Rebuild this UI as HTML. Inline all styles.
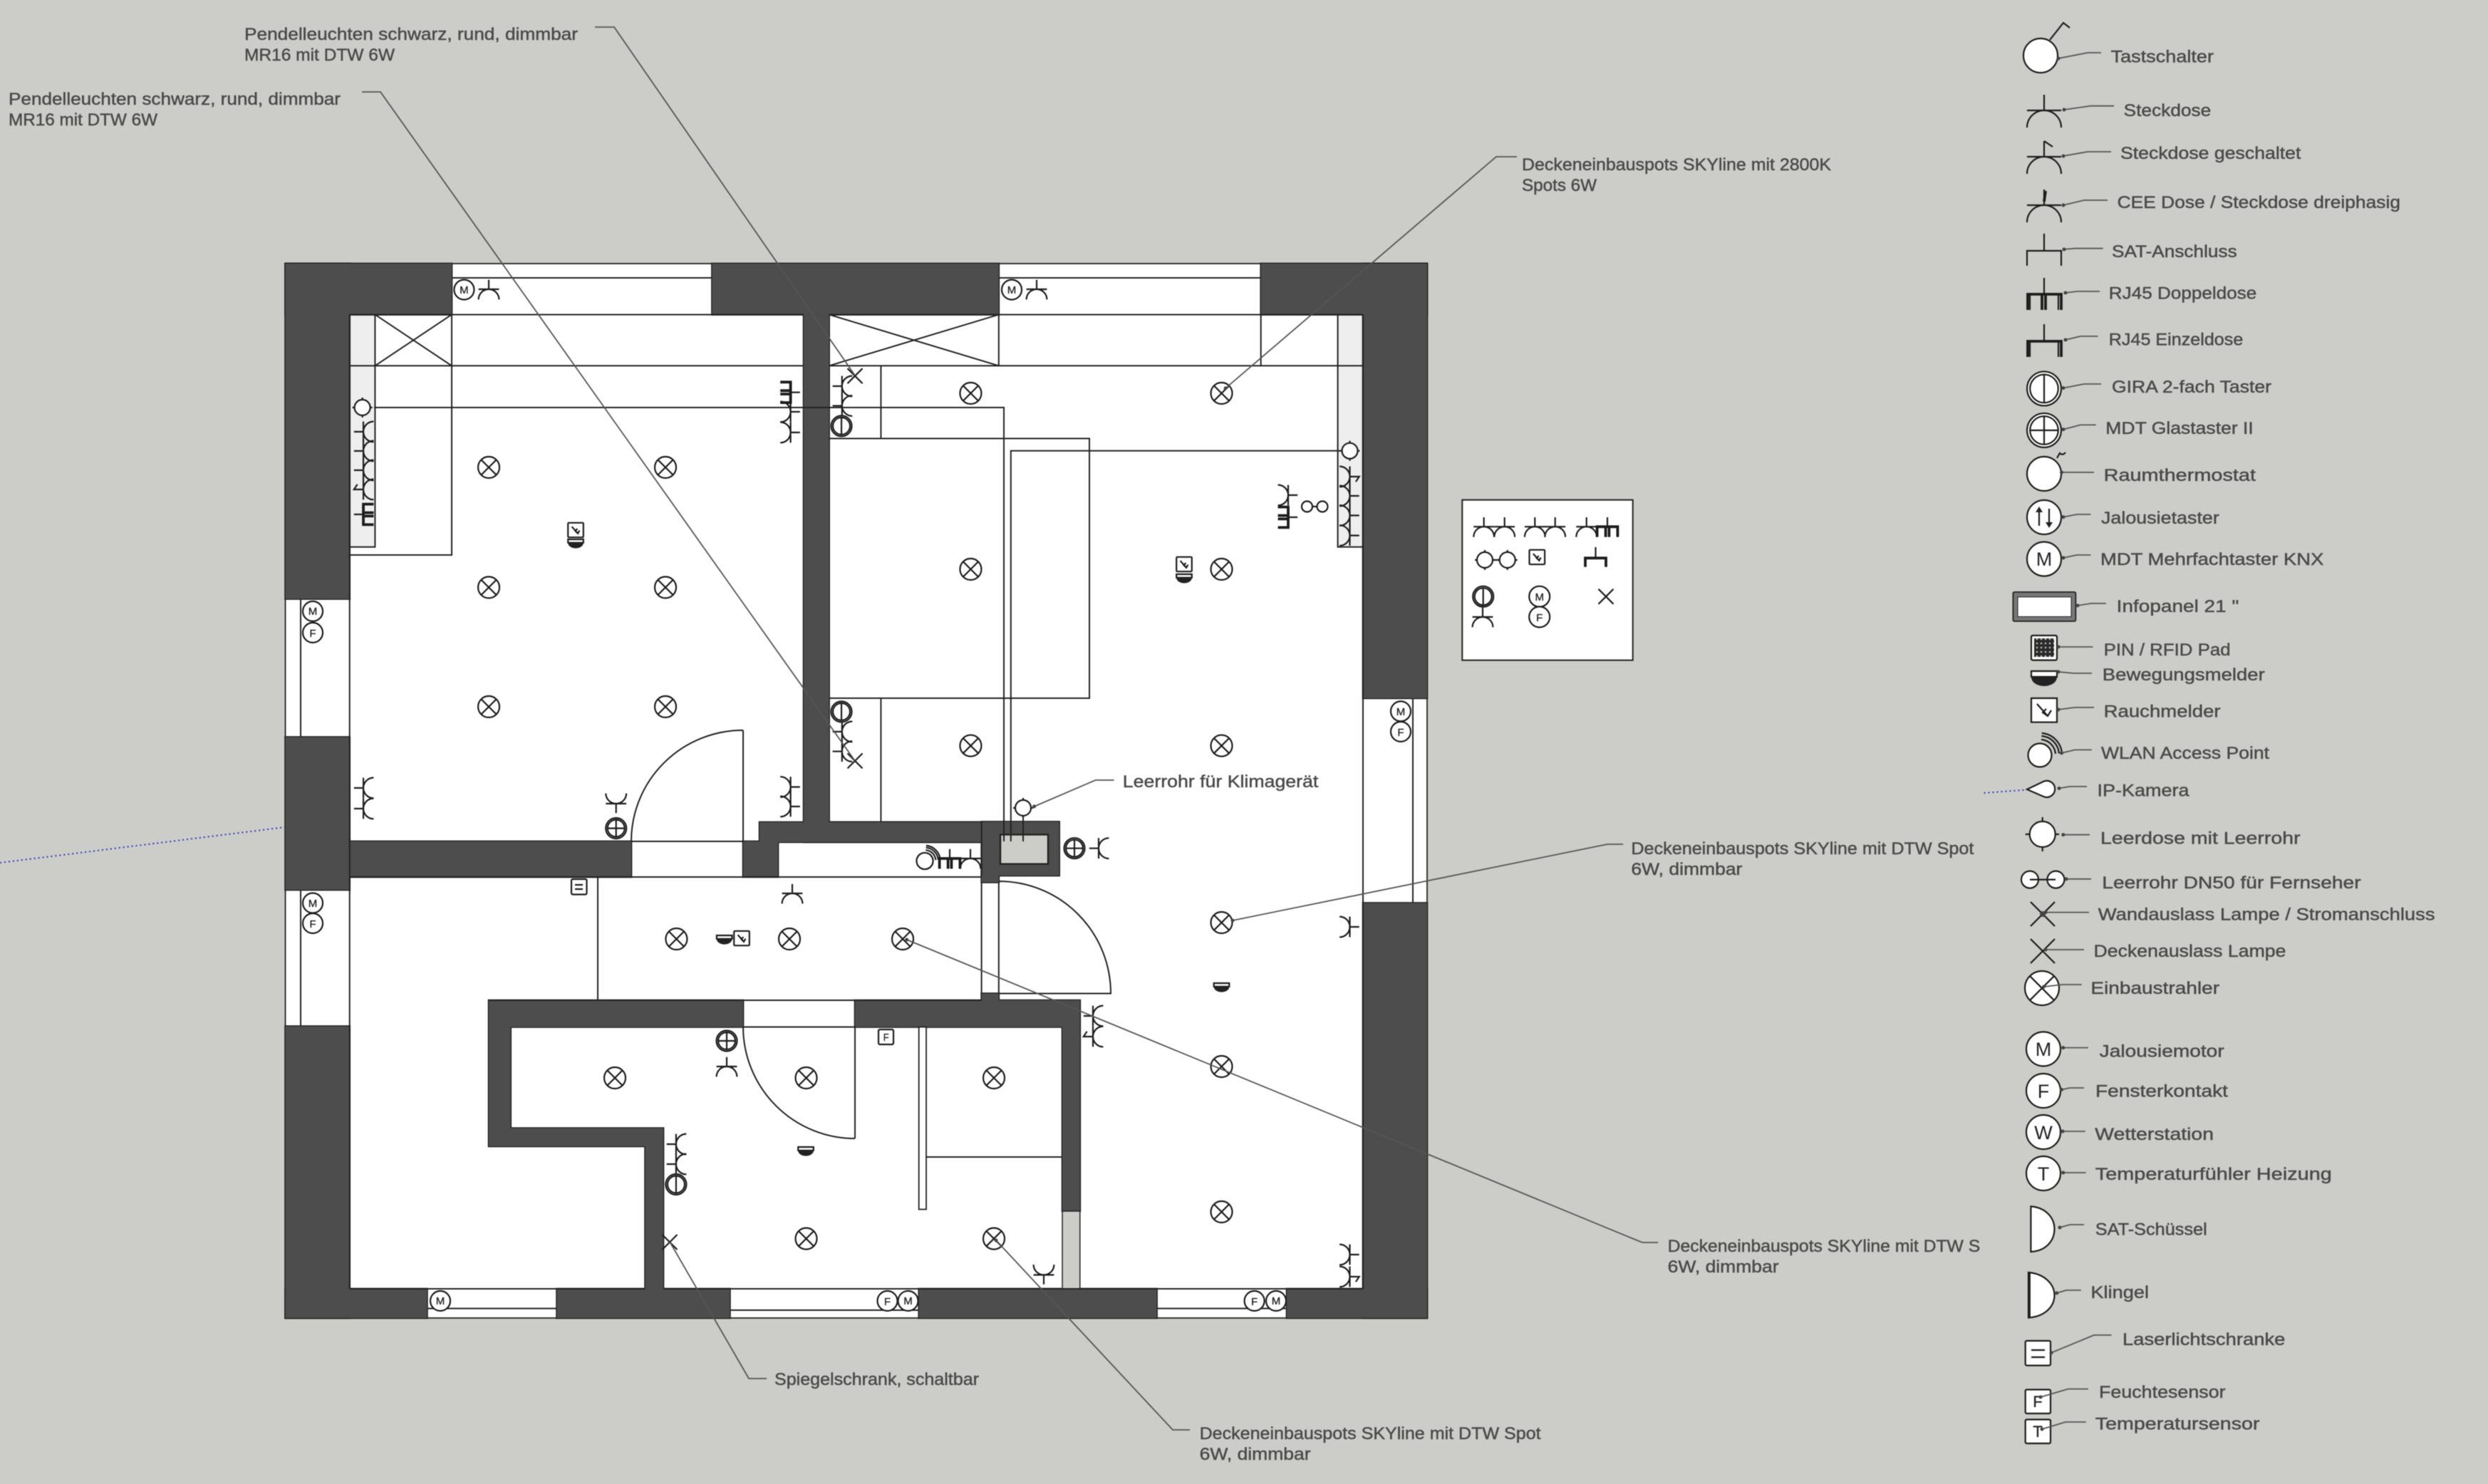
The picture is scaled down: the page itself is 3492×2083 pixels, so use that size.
<!DOCTYPE html>
<html><head><meta charset="utf-8"><style>
html,body{margin:0;padding:0;background:#cccdc8}
svg{display:block;filter:blur(.6px)}
text{font-family:"Liberation Sans",sans-serif;font-size:24px;fill:#4a4a4a;stroke:#4a4a4a;stroke-width:.45}
.l,.l *{fill:none;stroke:#222;stroke-width:2;vector-effect:non-scaling-stroke}
.ld{fill:none;stroke:#555;stroke-width:1.8}
.dot{fill:#444}
.sym *{vector-effect:non-scaling-stroke}
.st{fill:none;stroke:#1c1c1c;stroke-width:2.2}
.wf{fill:#fff;stroke:#1c1c1c;stroke-width:2.2}
.th{fill:none;stroke:#1c1c1c;stroke-width:3.8}
.m{font-size:15px;fill:#222;stroke:#222;stroke-width:.3;text-anchor:middle}
.b{font-size:27px;fill:#222;stroke:none;text-anchor:middle}
.f{fill:#222;stroke:none}
</style></head><body>
<svg xmlns="http://www.w3.org/2000/svg" width="3492" height="2083" viewBox="0 0 3492 2083">
<rect width="3492" height="2083" fill="#cccdc8"/>
<defs>
<g id="s" class="sym"><path class="st" d="M-24 0H24M0 0V-22M-24 24A24 24 0 0 1 24 24"/></g>
<g id="ss" class="sym"><path class="st" d="M-24 0H24M0 0V-22L12 -14M-24 24A24 24 0 0 1 24 24"/></g>
<g id="r2" class="sym"><path class="st" d="M0 0V-22"/><path class="th" d="M-24 24V0H24V24M-4 24V0M4 24V0"/></g>
<g id="p" class="sym"><circle class="wf" r="15"/><path class="st" d="M-10.6 -10.6L10.6 10.6M-10.6 10.6L10.6 -10.6"/></g>
<g id="g" class="sym"><circle class="wf" r="14.5"/><circle class="st" r="12"/><path class="st" d="M0 -12V12"/></g>
<g id="d" class="sym"><circle class="wf" r="14.5"/><circle class="st" r="12"/><path class="st" d="M0 -12V12M-12 0H12"/></g>
<g id="x" class="sym"><path class="st" d="M-10.5 -10.5L10.5 10.5M-10.5 10.5L10.5 -10.5"/></g>
<g id="e" class="sym"><circle class="wf" r="11"/><path class="st" d="M0 -11V-14M0 11V14M-11 0H-14M11 0H14"/></g>
<g id="k" class="sym"><rect class="wf" x="-18" y="-17" width="36" height="34" rx="2"/><path class="st" d="M-9 -8L5 8M4 -3L-1 2L5 8L9 1"/></g>
<g id="b" class="sym"><path class="wf" d="M-18 -10H18V-2H-18Z"/><path class="f" d="M-18 -2H18C18 7 8 11 0 11C-8 11 -18 7 -18 -2Z"/></g>
<pattern id="pin" width="6" height="6" patternUnits="userSpaceOnUse"><rect width="6" height="6" fill="#2a2a2a"/><circle cx="3" cy="3" r="1.3" fill="#bbb"/></pattern>
<g id="wl">
<rect x="400.5" y="370" width="233.5" height="71.6"/>
<rect x="999.4" y="370" width="402.4" height="71.6"/>
<rect x="1769.7" y="370" width="233.3" height="71.6"/>
<rect x="400.5" y="370" width="90.2" height="470.6"/>
<rect x="400.5" y="1034.6" width="90.2" height="214.4"/>
<rect x="400.5" y="1440.5" width="90.2" height="409.5"/>
<rect x="400.5" y="1809" width="198.9" height="41"/>
<rect x="781.5" y="1809" width="242.9" height="41"/>
<rect x="1289.7" y="1809" width="333.9" height="41"/>
<rect x="1806" y="1809" width="197" height="41"/>
<rect x="1913" y="370" width="90" height="610"/>
<rect x="1913" y="1267.5" width="90" height="582.5"/>
<rect x="1128" y="441.6" width="35.6" height="713"/>
<rect x="490.7" y="1181" width="395.3" height="50"/>
<polygon points="1043,1181 1066,1181 1066,1154 1378,1154 1378,1182 1092,1182 1092,1231 1043,1231"/>
<rect x="1128" y="1154" width="250" height="28"/>
<rect x="1377.6" y="1153.5" width="109.1" height="75.5"/>
<rect x="1377.6" y="1229" width="24.2" height="9.4"/>
<rect x="1377.6" y="1394.5" width="24.2" height="9.5"/>
<polygon points="686,1404 1043,1404 1043,1441.5 716.7,1441.5 716.7,1583.5 931,1583.5 931,1809 905.5,1809 905.5,1609 686,1609"/>
<polygon points="1200,1404 1515.8,1404 1515.8,1700 1491,1700 1491,1441.5 1200,1441.5"/>
</g>
</defs>

<!-- plan base -->
<rect x="400.5" y="370" width="1602.5" height="1480" fill="#fff" stroke="#222" stroke-width="1.8"/>
<rect x="490.7" y="441.6" width="35.7" height="326" fill="#eee"/>
<rect x="1877.6" y="441.6" width="35.4" height="326" fill="#eee"/>

<!-- walls: dark outline underlay, then fill -->
<use href="#wl" fill="#1c1c1c" stroke="#1c1c1c" stroke-width="2.6"/>
<use href="#wl" fill="#4d4d4d"/>
<rect x="1404" y="1171.5" width="67" height="41.2" fill="#cccdc8" stroke="#222" stroke-width="2.4"/>
<rect x="1491" y="1700" width="24.8" height="109" fill="#cccdc8" stroke="#222" stroke-width="1.5"/>

<!-- plan lines -->
<g class="l">
<path d="M634 390H999.4M1401.8 390H1769.7M422 840.6V1034.6M422 1249V1440.5"/>
<path d="M1983 980V1267.5M599.4 1836.6H781.5M1024.4 1839H1289.7M1623.6 1836.6H1806"/>
<path d="M490.7 441.6H1128M1163.6 441.6H1913M490.7 441.6V1809M1913 441.6V1809M490.7 1809H905.5M931 1809H1913"/>
<path d="M490.7 513.4H1128M1163.6 513.4H1913M526.4 441.6V767.7H490.7M634 441.6V779H490.7M1877.6 441.6V767.7H1913"/>
<path d="M526.4 441.6L634 513.4M526.4 513.4L634 441.6M1163.6 441.6L1401.8 513.4M1163.6 513.4L1401.8 441.6"/>
<path d="M1401.8 441.6V513.4M1769.7 441.6V513.4"/>
<path d="M1236.4 513.4V615.5M1163.6 615.5H1529V980H1163.6M1236.4 980V1153.5"/>
<path d="M525 572H1409V1181M1882 632.8H1418.8V1181M1436 1145V1181"/>
<path d="M886 1181H1043V1025M886 1181A157 156 0 0 1 1043 1025M886 1231H1043"/>
<path d="M490.7 1231H1378M839 1231V1404M686 1404H1378M1377.6 1153.5V1229M1377.6 1238V1394.5M1401.8 1238V1394.5M1402 1237A157 157.5 0 0 1 1559 1394.5H1401.8"/>
<path d="M1043 1441.5H1200V1598M1043 1441.5A157 157 0 0 0 1200 1598"/>
<path d="M1300 1624H1491"/>
</g>
<rect x="1289.7" y="1441.5" width="10.3" height="256" fill="#fff" stroke="#222" stroke-width="1.8"/>

<!-- spots -->
<use href="#p" x="686" y="656"/><use href="#p" x="934" y="656"/>
<use href="#p" x="686" y="824.5"/><use href="#p" x="934" y="824.5"/>
<use href="#p" x="686" y="992"/><use href="#p" x="934" y="992"/>
<use href="#p" x="1362.4" y="552"/><use href="#p" x="1714.5" y="552"/>
<use href="#p" x="1362.4" y="799"/><use href="#p" x="1714.5" y="799"/>
<use href="#p" x="1362.4" y="1046.7"/><use href="#p" x="1714.5" y="1046.7"/>
<use href="#p" x="1714.5" y="1295"/><use href="#p" x="1714.5" y="1497"/><use href="#p" x="1714.5" y="1701"/>
<use href="#p" x="949.4" y="1318"/><use href="#p" x="1108" y="1318"/><use href="#p" x="1267" y="1318"/>
<use href="#p" x="863" y="1513"/><use href="#p" x="1131.5" y="1513"/><use href="#p" x="1395" y="1513"/>
<use href="#p" x="1131.5" y="1738.6"/><use href="#p" x="1395" y="1738.6"/>

<!-- sockets -->
<use href="#s" transform="translate(686 406) scale(.6)"/>
<use href="#s" transform="translate(1455 406) scale(.6)"/>
<use href="#s" transform="translate(510 606) rotate(-90) scale(.6)"/>
<use href="#s" transform="translate(510 633) rotate(-90) scale(.6)"/>
<use href="#s" transform="translate(510 660) rotate(-90) scale(.6)"/>
<use href="#ss" transform="translate(510 687) rotate(-90) scale(.6)"/>
<use href="#r2" transform="translate(510 722) rotate(-90) scale(.6)"/>
<use href="#r2" transform="translate(1109.6 550.7) rotate(90) scale(.6)"/>
<use href="#s" transform="translate(1109.6 578) rotate(90) scale(.6)"/>
<use href="#s" transform="translate(1109.6 607) rotate(90) scale(.6)"/>
<use href="#s" transform="translate(510 1106) rotate(-90) scale(.6)"/>
<use href="#s" transform="translate(510 1135) rotate(-90) scale(.6)"/>
<use href="#s" transform="translate(1109.6 1104.6) rotate(90) scale(.6)"/>
<use href="#s" transform="translate(1109.6 1132) rotate(90) scale(.6)"/>
<use href="#s" transform="translate(864.7 1128) rotate(180) scale(.6)"/>
<use href="#s" transform="translate(1181.8 542) rotate(-90) scale(.6)"/>
<use href="#s" transform="translate(1181.8 569.6) rotate(-90) scale(.6)"/>
<use href="#s" transform="translate(1181.8 1027) rotate(-90) scale(.6)"/>
<use href="#s" transform="translate(1181.8 1054.7) rotate(-90) scale(.6)"/>
<use href="#ss" transform="translate(1894.5 669) rotate(90) scale(.6)"/>
<use href="#s" transform="translate(1894.5 696) rotate(90) scale(.6)"/>
<use href="#s" transform="translate(1894.5 723.5) rotate(90) scale(.6)"/>
<use href="#s" transform="translate(1894.5 751.6) rotate(90) scale(.6)"/>
<use href="#s" transform="translate(1808 695) rotate(90) scale(.6)"/>
<use href="#r2" transform="translate(1808 726) rotate(90) scale(.6)"/>
<use href="#s" transform="translate(1542 1190.7) rotate(-90) scale(.6)"/>
<use href="#r2" transform="translate(1333 1205) scale(.6)"/>
<use href="#s" transform="translate(1362 1205) scale(.6)"/>
<use href="#s" transform="translate(1112 1254) scale(.6)"/>
<use href="#s" transform="translate(1020 1497) scale(.6)"/>
<use href="#s" transform="translate(1894.5 1301) rotate(90) scale(.6)"/>
<use href="#s" transform="translate(1894.5 1761) rotate(90) scale(.6)"/>
<use href="#ss" transform="translate(1894.5 1792) rotate(90) scale(.6)"/>
<use href="#s" transform="translate(1534 1426) rotate(-90) scale(.6)"/>
<use href="#ss" transform="translate(1534 1455) rotate(-90) scale(.6)"/>
<use href="#s" transform="translate(1465 1789.5) rotate(180) scale(.6)"/>
<use href="#s" transform="translate(948.9 1606) rotate(-90) scale(.6)"/>
<use href="#s" transform="translate(948.9 1634) rotate(-90) scale(.6)"/>

<!-- switches / boxes -->
<use href="#e" x="508.6" y="572"/><use href="#e" x="1894.5" y="632.8"/><use href="#e" x="1436" y="1134"/>
<use href="#g" x="1181" y="598"/><use href="#g" x="1181" y="999"/><use href="#g" x="948.9" y="1662.5"/>
<use href="#d" x="864.7" y="1162.6"/><use href="#d" x="1020" y="1461"/><use href="#d" x="1508" y="1190.7"/>
<use href="#x" x="1200" y="527.7"/><use href="#x" x="1200" y="1068"/><use href="#x" x="940" y="1743.5"/>
<use href="#k" transform="translate(808 744) scale(.6)"/><use href="#b" transform="translate(808 763) scale(.6)"/>
<use href="#k" transform="translate(1662 792) scale(.6)"/><use href="#b" transform="translate(1662 812) scale(.6)"/>
<use href="#b" transform="translate(1016.7 1319) scale(.6)"/><use href="#k" transform="translate(1041 1317) scale(.6)"/>
<use href="#b" transform="translate(1131 1616) scale(.6)"/><use href="#b" transform="translate(1714.5 1386) scale(.6)"/>
<g class="sym">
<path class="st" d="M1842 711H1849"/><circle class="wf" cx="1834.5" cy="711" r="7.5"/><circle class="wf" cx="1856" cy="711" r="7.5"/>
<g transform="translate(1298 1208.5) scale(.7)"><circle class="wf" r="16.5"/><path class="st" d="M1.9 -21.9A22 22 0 0 1 21.9 -1.9M2.4 -26.9A27 27 0 0 1 26.9 -2.4M2.7 -30.9A31 31 0 0 1 30.9 -2.7"/></g>
<rect class="wf" x="802" y="1234" width="21.5" height="21.5" rx="2"/><path class="st" d="M807 1242H818M807 1248H818"/>
<rect class="wf" x="1233" y="1445" width="21" height="21" rx="2"/>
</g>
<text class="m" x="1243.6" y="1461" textLength="8" lengthAdjust="spacingAndGlyphs">F</text>

<!-- M/F markers -->
<g class="sym">
<circle class="wf" cx="651.4" cy="406.6" r="14"/><circle class="wf" cx="1420" cy="406.6" r="14"/>
<circle class="wf" cx="439" cy="858" r="14"/><circle class="wf" cx="439" cy="888" r="14"/>
<circle class="wf" cx="439" cy="1267.5" r="14"/><circle class="wf" cx="439" cy="1296" r="14"/>
<circle class="wf" cx="618" cy="1826" r="14"/>
<circle class="wf" cx="1245.5" cy="1826" r="14"/><circle class="wf" cx="1274.5" cy="1826" r="14"/>
<circle class="wf" cx="1760.6" cy="1826" r="14"/><circle class="wf" cx="1791" cy="1826" r="14"/>
<circle class="wf" cx="1966" cy="998.4" r="14"/><circle class="wf" cx="1966" cy="1027" r="14"/>
</g>
<text class="m" x="651.4" y="412">M</text><text class="m" x="1420" y="412">M</text>
<text class="m" x="439" y="863">M</text><text class="m" x="439" y="894">F</text>
<text class="m" x="439" y="1273">M</text><text class="m" x="439" y="1302">F</text>
<text class="m" x="618" y="1831">M</text>
<text class="m" x="1245.5" y="1832">F</text><text class="m" x="1274.5" y="1831">M</text>
<text class="m" x="1760.6" y="1832">F</text><text class="m" x="1791" y="1831">M</text>
<text class="m" x="1966" y="1004">M</text><text class="m" x="1966" y="1033">F</text>

<!-- symbols box -->
<rect x="2052.3" y="701.7" width="239.4" height="225" fill="#fff" stroke="#222" stroke-width="2"/>
<use href="#s" transform="translate(2082.7 739.3) scale(.6)"/><use href="#s" transform="translate(2111.7 739.3) scale(.6)"/>
<use href="#s" transform="translate(2154.3 739.3) scale(.6)"/><use href="#s" transform="translate(2182.7 739.3) scale(.6)"/>
<use href="#s" transform="translate(2226.7 739.3) scale(.6)"/><use href="#r2" transform="translate(2256 739.3) scale(.6)"/>
<use href="#e" x="2084" y="786"/><use href="#e" x="2115.7" y="786"/>
<path class="st" d="M2095 786H2105"/>
<use href="#k" transform="translate(2157.3 782) scale(.6)"/>
<path class="th" d="M2225 795.7V783.3H2254V795.7"/><path class="st" d="M2239.5 783.3V768"/>
<use href="#g" x="2081.7" y="837.3"/><use href="#s" transform="translate(2081 866) scale(.6)"/><path class="st" d="M2081 850V852"/>
<circle class="wf" cx="2160.7" cy="837.3" r="14.5"/><circle class="wf" cx="2160.7" cy="866" r="14.5"/>
<text class="m" x="2160.7" y="843">M</text><text class="m" x="2160.7" y="872">F</text>
<use href="#x" x="2254" y="837.3"/>

<!-- blue dotted -->
<path d="M0 1211L400 1161M2784.5 1113L2843.6 1108.7" fill="none" stroke="#3333bb" stroke-width="2" stroke-dasharray="2 4"/>

<!-- leaders plan -->
<g class="ld">
<path d="M835 38H862L1200 527"/>
<path d="M508 129H534L1200 1068"/>
<path d="M2129 220H2100L1720 545"/>
<path d="M2278 1185H2256L1730 1292"/>
<path d="M2327 1744H2305L1272.7 1319"/>
<path d="M1076 1935H1051L940 1743"/>
<path d="M1670 2007H1646L1398 1741"/>
<path d="M1563.6 1095H1537.6L1451.5 1132"/>
</g>
<g class="dot"><circle cx="1720" cy="545" r="2.5"/><circle cx="1730" cy="1292" r="2.5"/><circle cx="1272.7" cy="1319" r="2.5"/><circle cx="1398" cy="1741" r="2.5"/><circle cx="1451.5" cy="1132" r="2.5"/></g>

<!-- annotations -->
<text x="343" y="56" textLength="468" lengthAdjust="spacingAndGlyphs">Pendelleuchten schwarz, rund, dimmbar</text>
<text x="343" y="85" textLength="211" lengthAdjust="spacingAndGlyphs">MR16 mit DTW 6W</text>
<text x="12" y="147" textLength="466" lengthAdjust="spacingAndGlyphs">Pendelleuchten schwarz, rund, dimmbar</text>
<text x="12" y="176" textLength="209" lengthAdjust="spacingAndGlyphs">MR16 mit DTW 6W</text>
<text x="2136" y="239" textLength="434" lengthAdjust="spacingAndGlyphs">Deckeneinbauspots SKYline mit 2800K</text>
<text x="2136" y="268" textLength="105" lengthAdjust="spacingAndGlyphs">Spots 6W</text>
<text x="1575.8" y="1105" textLength="274.5" lengthAdjust="spacingAndGlyphs">Leerrohr für Klimagerät</text>
<text x="2289.4" y="1199" textLength="481" lengthAdjust="spacingAndGlyphs">Deckeneinbauspots SKYline mit DTW Spot</text>
<text x="2289.4" y="1228" textLength="156" lengthAdjust="spacingAndGlyphs">6W, dimmbar</text>
<text x="2340.6" y="1757" textLength="438.7" lengthAdjust="spacingAndGlyphs">Deckeneinbauspots SKYline mit DTW S</text>
<text x="2340.6" y="1786" textLength="156" lengthAdjust="spacingAndGlyphs">6W, dimmbar</text>
<text x="1087" y="1944" textLength="287" lengthAdjust="spacingAndGlyphs">Spiegelschrank, schaltbar</text>
<text x="1683.6" y="2020" textLength="479" lengthAdjust="spacingAndGlyphs">Deckeneinbauspots SKYline mit DTW Spot</text>
<text x="1683.6" y="2049" textLength="156" lengthAdjust="spacingAndGlyphs">6W, dimmbar</text>

<!-- legend symbols -->
<g class="sym">
<circle class="wf" cx="2864" cy="78" r="24"/><path class="st" d="M2877 56L2896 32L2905 39"/>
<use href="#s" transform="translate(2869 155)"/>
<use href="#s" transform="translate(2869 220)"/><path class="st" d="M2869 198L2881 206"/>
<use href="#s" transform="translate(2869 288)"/><path class="th" d="M2869 283L2871 268"/>
<path class="st" d="M2845 373V352H2893V373M2869 352V328"/>
<path class="st" d="M2869 412V390"/><path class="th" d="M2846 435V413H2893V435M2866 435V413M2871 435V413"/><path class="st" d="M2849 435V413M2889 435V413"/>
<path class="st" d="M2869 478V455"/><path class="th" d="M2846 501V479H2893V501"/><path class="st" d="M2849 501V479M2889 501V479"/>
<use href="#g" transform="translate(2869 545.5) scale(1.65)"/>
<use href="#d" transform="translate(2869 604) scale(1.65)"/>
<circle class="wf" cx="2869" cy="665" r="24"/><path class="st" d="M2887 643L2891 636Q2895 640 2899 635"/>
<circle class="wf" cx="2869" cy="726" r="24"/>
<path class="st" d="M2862 738V716M2876 714V736"/><path class="f" d="M2857 719L2862 711L2867 719ZM2871 733L2881 733L2876 741Z"/>
<circle class="wf" cx="2869" cy="784.6" r="24"/>
<rect x="2825.4" y="831" width="88" height="41" rx="2" fill="#777" stroke="#222" stroke-width="1.8"/><rect x="2832" y="838" width="75" height="27.5" fill="#fff" stroke="#222"/>
<rect class="wf" x="2851" y="892" width="36" height="34.6" rx="2"/><rect x="2855" y="896" width="28" height="26" fill="url(#pin)"/>
<use href="#b" transform="translate(2869 952)"/>
<rect class="wf" x="2851" y="980" width="36" height="33.7"/><path class="st" d="M2859 988L2874 1005M2872 995L2867 1000L2874 1005L2879 997"/>
<circle class="wf" cx="2863" cy="1060" r="16.5"/><path class="st" d="M2865 1038A22 22 0 0 1 2885 1058M2865.4 1033A27 27 0 0 1 2890 1057.6M2865.7 1029A31 31 0 0 1 2894 1057.3"/>
<path class="wf" d="M2845 1108L2868 1097A11.5 11.5 0 1 1 2868 1118Z"/>
<circle class="wf" cx="2866.7" cy="1171" r="18"/><path class="st" d="M2866.7 1153V1147M2866.7 1189V1195M2848.7 1171H2842.7M2884.7 1171H2890"/>
<circle class="wf" cx="2849" cy="1234.6" r="12"/><circle class="wf" cx="2885.4" cy="1234.6" r="12"/><path class="st" d="M2849 1234.6H2885"/>
<path class="st" d="M2850 1266L2884 1300M2850 1300L2884 1266"/><circle class="dot" cx="2867" cy="1283" r="4"/>
<path class="st" d="M2850 1318L2884 1352M2850 1352L2884 1318"/>
<use href="#p" transform="translate(2866 1387) scale(1.6)"/>
<circle class="wf" cx="2868" cy="1472.4" r="24"/><circle class="wf" cx="2868" cy="1531" r="24"/><circle class="wf" cx="2868" cy="1589" r="24"/><circle class="wf" cx="2868" cy="1647" r="24"/>
<path class="wf" d="M2850.4 1693.4C2872 1695 2883.5 1710 2883.5 1725C2883.5 1741 2872 1756 2850.4 1757Z"/>
<path class="wf" d="M2847 1786C2870 1788 2883.5 1803 2883.5 1818C2883.5 1834 2870 1848 2847 1849.6Z"/><path class="th" d="M2848 1786V1849.6"/>
<rect class="wf" x="2842.7" y="1882" width="35.3" height="34.6" rx="2"/><path class="st" d="M2851 1895H2870M2851 1905H2870"/>
<rect class="wf" x="2842.7" y="1950.5" width="35.3" height="33.5" rx="2"/>
<rect class="wf" x="2842.7" y="1992.5" width="35.3" height="33.5" rx="2"/>
</g>
<text class="b" x="2869" y="794">M</text>
<text class="b" x="2868" y="1482">M</text><text class="b" x="2868" y="1541">F</text><text class="b" x="2868" y="1599">W</text><text class="b" x="2868" y="1657">T</text>
<text class="m" x="2860" y="1975" style="font-size:22px">F</text><text class="m" x="2860" y="2017" style="font-size:22px">T</text>

<!-- legend leaders -->
<g class="ld">
<path d="M2949 74H2930L2889 82M2967 148.7H2934L2897 154M2963 213H2930L2896 219M2958 281H2925L2896 288M2951.7 348.7H2912L2897 350M2947 409H2915L2899 411M2944.4 472H2920L2899 477M2949 539H2925L2896 544.6M2941.7 596.4H2920L2896 602.7M2939 663H2893.5"/>
<path d="M2934.4 722H2915L2896 725.7M2934.4 779H2915L2896 783M2956 847H2935L2916 850M2937.6 908H2889M2936 945H2910L2889 943M2939 993H2912L2889 996M2935.8 1052.5H2912L2893.5 1057M2929 1104H2905L2890 1106.5M2933 1171.7H2895.8M2935 1233.8H2900M2932 1280.6H2871M2925 1333H2871M2921.7 1382H2895L2868.6 1385"/>
<path d="M2930.8 1470.6H2895.8M2925 1527H2905L2893.5 1529.5M2926.7 1588H2895M2927.6 1646H2895.8M2925 1719H2905L2891 1723M2920.8 1811H2900L2886.7 1815M2963.5 1874H2939L2879 1898.8M2930.8 1949.6H2902.6L2864 1961M2927.6 1996H2899L2866 2006"/>
</g>
<g class="dot">
<circle cx="2889" cy="82" r="2.5"/><circle cx="2897" cy="154" r="2.5"/><circle cx="2896" cy="219" r="2.5"/><circle cx="2896" cy="288" r="2.5"/><circle cx="2897" cy="350" r="2.5"/><circle cx="2899" cy="411" r="2.5"/><circle cx="2899" cy="477" r="2.5"/><circle cx="2896" cy="544.6" r="2.5"/><circle cx="2896" cy="602.7" r="2.5"/><circle cx="2893.5" cy="663" r="2.5"/>
<circle cx="2896" cy="725.7" r="2.5"/><circle cx="2896" cy="783" r="2.5"/><circle cx="2916" cy="850" r="2.5"/><circle cx="2889" cy="908" r="2.5"/><circle cx="2889" cy="943" r="2.5"/><circle cx="2889" cy="996" r="2.5"/><circle cx="2893.5" cy="1057" r="2.5"/><circle cx="2890" cy="1106.5" r="2.5"/><circle cx="2895.8" cy="1171.7" r="2.5"/><circle cx="2900" cy="1233.8" r="2.5"/><circle cx="2871" cy="1280.6" r="2.5"/><circle cx="2871" cy="1333" r="2.5"/><circle cx="2868.6" cy="1385" r="2.5"/>
<circle cx="2895.8" cy="1470.6" r="2.5"/><circle cx="2893.5" cy="1529.5" r="2.5"/><circle cx="2895" cy="1588" r="2.5"/><circle cx="2895.8" cy="1646" r="2.5"/><circle cx="2891" cy="1723" r="2.5"/><circle cx="2886.7" cy="1815" r="2.5"/><circle cx="2879" cy="1898.8" r="2.5"/><circle cx="2864" cy="1961" r="2.5"/><circle cx="2866" cy="2006" r="2.5"/>
</g>

<!-- legend text -->
<text x="2962.6" y="87.4" textLength="144.4" lengthAdjust="spacingAndGlyphs">Tastschalter</text>
<text x="2980.7" y="163" textLength="122.6" lengthAdjust="spacingAndGlyphs">Steckdose</text>
<text x="2976" y="223" textLength="253.4" lengthAdjust="spacingAndGlyphs">Steckdose geschaltet</text>
<text x="2971.6" y="291.8" textLength="397.4" lengthAdjust="spacingAndGlyphs">CEE Dose / Steckdose dreiphasig</text>
<text x="2964" y="361" textLength="175.7" lengthAdjust="spacingAndGlyphs">SAT-Anschluss</text>
<text x="2959.8" y="419.5" textLength="207.5" lengthAdjust="spacingAndGlyphs">RJ45 Doppeldose</text>
<text x="2959.8" y="484.7" textLength="188.5" lengthAdjust="spacingAndGlyphs">RJ45 Einzeldose</text>
<text x="2964" y="551" textLength="224" lengthAdjust="spacingAndGlyphs">GIRA 2-fach Taster</text>
<text x="2955.3" y="609" textLength="207.5" lengthAdjust="spacingAndGlyphs">MDT Glastaster II</text>
<text x="2952.6" y="675" textLength="213.4" lengthAdjust="spacingAndGlyphs">Raumthermostat</text>
<text x="2949" y="735" textLength="165.8" lengthAdjust="spacingAndGlyphs">Jalousietaster</text>
<text x="2948" y="793" textLength="313.4" lengthAdjust="spacingAndGlyphs">MDT Mehrfachtaster KNX</text>
<text x="2970.7" y="859" textLength="171.7" lengthAdjust="spacingAndGlyphs">Infopanel 21 "</text>
<text x="2952.6" y="920" textLength="178" lengthAdjust="spacingAndGlyphs">PIN / RFID Pad</text>
<text x="2950.8" y="955" textLength="228" lengthAdjust="spacingAndGlyphs">Bewegungsmelder</text>
<text x="2952.6" y="1006.4" textLength="164" lengthAdjust="spacingAndGlyphs">Rauchmelder</text>
<text x="2949" y="1065" textLength="236" lengthAdjust="spacingAndGlyphs">WLAN Access Point</text>
<text x="2943.5" y="1117.6" textLength="129" lengthAdjust="spacingAndGlyphs">IP-Kamera</text>
<text x="2948" y="1184.5" textLength="280.6" lengthAdjust="spacingAndGlyphs">Leerdose mit Leerrohr</text>
<text x="2950.3" y="1247" textLength="363.3" lengthAdjust="spacingAndGlyphs">Leerrohr DN50 für Fernseher</text>
<text x="2944.8" y="1291.7" textLength="472.8" lengthAdjust="spacingAndGlyphs">Wandauslass Lampe / Stromanschluss</text>
<text x="2938.5" y="1343" textLength="270" lengthAdjust="spacingAndGlyphs">Deckenauslass Lampe</text>
<text x="2934.4" y="1395" textLength="180.7" lengthAdjust="spacingAndGlyphs">Einbaustrahler</text>
<text x="2946.7" y="1483.5" textLength="175" lengthAdjust="spacingAndGlyphs">Jalousiemotor</text>
<text x="2941" y="1539.7" textLength="186" lengthAdjust="spacingAndGlyphs">Fensterkontakt</text>
<text x="2940.3" y="1600" textLength="166.7" lengthAdjust="spacingAndGlyphs">Wetterstation</text>
<text x="2940.8" y="1656" textLength="332" lengthAdjust="spacingAndGlyphs">Temperaturfühler Heizung</text>
<text x="2940.8" y="1733.5" textLength="157" lengthAdjust="spacingAndGlyphs">SAT-Schüssel</text>
<text x="2934.4" y="1822" textLength="81.7" lengthAdjust="spacingAndGlyphs">Klingel</text>
<text x="2979" y="1888" textLength="228.4" lengthAdjust="spacingAndGlyphs">Laserlichtschranke</text>
<text x="2946" y="1962" textLength="177.6" lengthAdjust="spacingAndGlyphs">Feuchtesensor</text>
<text x="2940.8" y="2006.7" textLength="230.7" lengthAdjust="spacingAndGlyphs">Temperatursensor</text>
</svg>
</body></html>
